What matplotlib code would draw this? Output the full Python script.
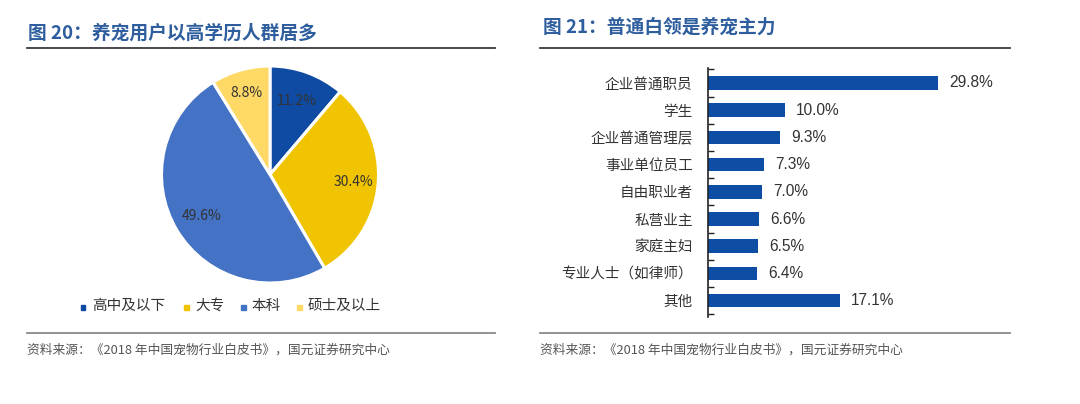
import matplotlib
matplotlib.use("Agg")
import matplotlib.pyplot as plt
from matplotlib.lines import Line2D
from matplotlib.patches import Rectangle
import numpy as np

plt.rcParams['font.family'] = ['Noto Sans CJK SC', 'DejaVu Sans']

# ---------------- data ----------------
pie_labels = ["高中及以下", "大专", "本科", "硕士及以上"]
pie_values = [11.2, 30.4, 49.6, 8.8]
pie_colors = ["#0F4BA3", "#F0C400", "#4472C4", "#FFD966"]

bar_cats = ["企业普通职员", "学生", "企业普通管理层", "事业单位员工", "自由职业者",
            "私营业主", "家庭主妇", "专业人士（如律师）", "其他"]
bar_values = [29.8, 10.0, 9.3, 7.3, 7.0, 6.6, 6.5, 6.4, 17.1]
bar_color = "#0E4DA4"

title_left = "图 20：养宠用户以高学历人群居多"
title_right = "图 21：普通白领是养宠主力"
source = "资料来源：《2018 年中国宠物行业白皮书》，国元证券研究中心"

W, H = 1080, 404
fig = plt.figure(figsize=(W / 100, H / 100), dpi=100)

def fx(px):
    return px / W

def fy(py):
    return 1 - py / H

title_color = "#2E5E9E"

# titles
fig.text(fx(28), fy(33), title_left, fontsize=13.5, fontweight='bold', color=title_color,
         va='center', ha='left')
fig.text(fx(543), fy(27), title_right, fontsize=13.5, fontweight='bold', color=title_color,
         va='center', ha='left')

# rules
for x0, x1 in [(27, 495), (540, 1010)]:
    fig.add_artist(Line2D([fx(x0), fx(x1)], [fy(47.5), fy(47.5)], color="#3A3A3A", lw=1.3))
    fig.add_artist(Line2D([fx(x0), fx(x1)], [fy(333), fy(333)], color="#8A8A8A", lw=1.3))

# sources
fig.text(fx(27), fy(350.5), source, fontsize=9.2, color="#555555", va='center', ha='left')
fig.text(fx(540), fy(350.5), source, fontsize=9.2, color="#555555", va='center', ha='left')

# ---------------- pie ----------------
cx, cy, r = 270, 174.5, 108.5
axp = fig.add_axes([fx(cx - r), fy(cy + r), fx(2 * r), (2 * r) / H])
wedges, texts = axp.pie(pie_values, colors=pie_colors, startangle=90, counterclock=False,
                        radius=1.0, wedgeprops=dict(edgecolor='white', linewidth=2.2))
for w in wedges:
    w.set_clip_on(False)
axp.set_xlim(-1.0, 1.0)
axp.set_ylim(-1.0, 1.0)
axp.set_aspect('equal')
axp.axis('off')

label_r = [0.72, 0.77, 0.74, 0.78]
cum = 0
for v, lr in zip(pie_values, label_r):
    mid = 90 - (cum + v / 2) / 100 * 360
    cum += v
    a = np.deg2rad(mid)
    axp.text(lr * np.cos(a), lr * np.sin(a), f"{v:.1f}%", ha='center', va='center',
             fontsize=10, color="#333333")

# legend
leg_x = [83, 186, 243, 299]
for x, lab, c in zip(leg_x, pie_labels, pie_colors):
    fig.add_artist(Rectangle((fx(x - 2.5), fy(307 + 2.5)), fx(5), 5 / H, color=c,
                             transform=fig.transFigure))
    fig.text(fx(x + 9), fy(306), lab, fontsize=10.5, color="#333333", va='center', ha='left')

# ---------------- bars ----------------
ax_left, ax_right, ax_top, ax_bot = 708, 1010, 68, 317
px_per_unit = 7.72
axb = fig.add_axes([fx(ax_left), fy(ax_bot), fx(ax_right - ax_left), (ax_bot - ax_top) / H])
ypos = list(range(len(bar_cats)))
axb.barh(ypos, bar_values, height=0.5, color=bar_color)
axb.set_xlim(0, (ax_right - ax_left) / px_per_unit)
axb.set_ylim(8.6, -0.55)
for s in ['top', 'right', 'bottom']:
    axb.spines[s].set_visible(False)
axb.spines['left'].set_color('#222222')
axb.spines['left'].set_linewidth(1.2)
axb.set_xticks([])
axb.set_yticks(ypos)
axb.set_yticklabels(bar_cats, fontsize=10.5, color="#333333")
axb.tick_params(axis='y', which='major', length=0, pad=11)
axb.set_yticks([i - 0.5 for i in range(len(bar_cats) + 1)], minor=True)
axb.tick_params(axis='y', which='minor', direction='in', length=4, width=1.0, color='#222222')
for y, v in zip(ypos, bar_values):
    axb.text(v + 11 / px_per_unit, y, f"{v:.1f}%", ha='left', va='center',
             fontsize=11.2, color="#333333", family=['Liberation Sans', 'DejaVu Sans'])

fig.savefig("out.png", dpi=100)
